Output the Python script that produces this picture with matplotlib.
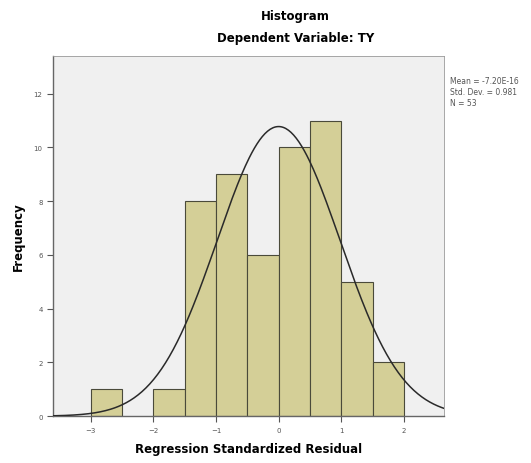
import numpy as np
import matplotlib
matplotlib.use('Agg')
import matplotlib.pyplot as plt

# residual histogram, bins of width 0.5
bin_edges = [-3.0, -2.5, -2.0, -1.5, -1.0, -0.5, 0.0, 0.5, 1.0, 1.5, 2.0]
counts = [1, 0, 1, 8, 9, 6, 10, 11, 5, 2]
mean = -7.20e-16
std_dev = 0.981
n_obs = 53

x_ticks = [-3, -2, -1, 0, 1, 2]
y_ticks = [0, 2, 4, 6, 8, 10, 12]

fig = plt.figure(figsize=(5.31, 4.64), dpi=100)
ax = fig.add_axes([0.0998, 0.101, 0.7365, 0.776])
ax.set_facecolor('#f0f0f0')

widths = np.diff(bin_edges)
for left, w, c in zip(bin_edges[:-1], widths, counts):
	if c > 0:
		ax.bar(left, c, width=w, align='edge', color='#d4cf97',
			   edgecolor='#4a4a3a', linewidth=0.8, zorder=2)

# normal curve scaled to the counts
xs = np.linspace(-3.6, 2.64, 300)
bw = widths[0]
pdf = np.exp(-0.5 * ((xs - mean) / std_dev) ** 2) / (std_dev * np.sqrt(2 * np.pi))
ax.plot(xs, n_obs * bw * pdf, color='#2a2a2a', linewidth=1.1, zorder=3)

ax.set_xlim(-3.6, 2.64)
ax.set_ylim(0, 13.4)
ax.set_xticks(x_ticks)
ax.set_yticks(y_ticks)
ax.tick_params(labelsize=5, colors='#555555', length=4, width=0.8)
for s in ['left', 'bottom']:
	ax.spines[s].set_color('#666666')
	ax.spines[s].set_linewidth(1.0)
for s in ['top', 'right']:
	ax.spines[s].set_color('#999999')
	ax.spines[s].set_linewidth(0.6)

ax.set_xlabel('Regression Standardized Residual', fontsize=8.5, fontweight='bold', labelpad=7)
ax.set_ylabel('Frequency', fontsize=8.5, fontweight='bold', labelpad=6)

fig.text(0.556, 0.965, 'Histogram', ha='center', va='center', fontsize=8.5, fontweight='bold')
fig.text(0.556, 0.918, 'Dependent Variable: TY', ha='center', va='center', fontsize=8.5, fontweight='bold')

stats = 'Mean = -7.20E-16\nStd. Dev. = 0.981\nN = 53'
fig.text(0.847, 0.834, stats, ha='left', va='top', fontsize=5.5, color='#555555', linespacing=1.3)

fig.savefig('out.png', dpi=100)
